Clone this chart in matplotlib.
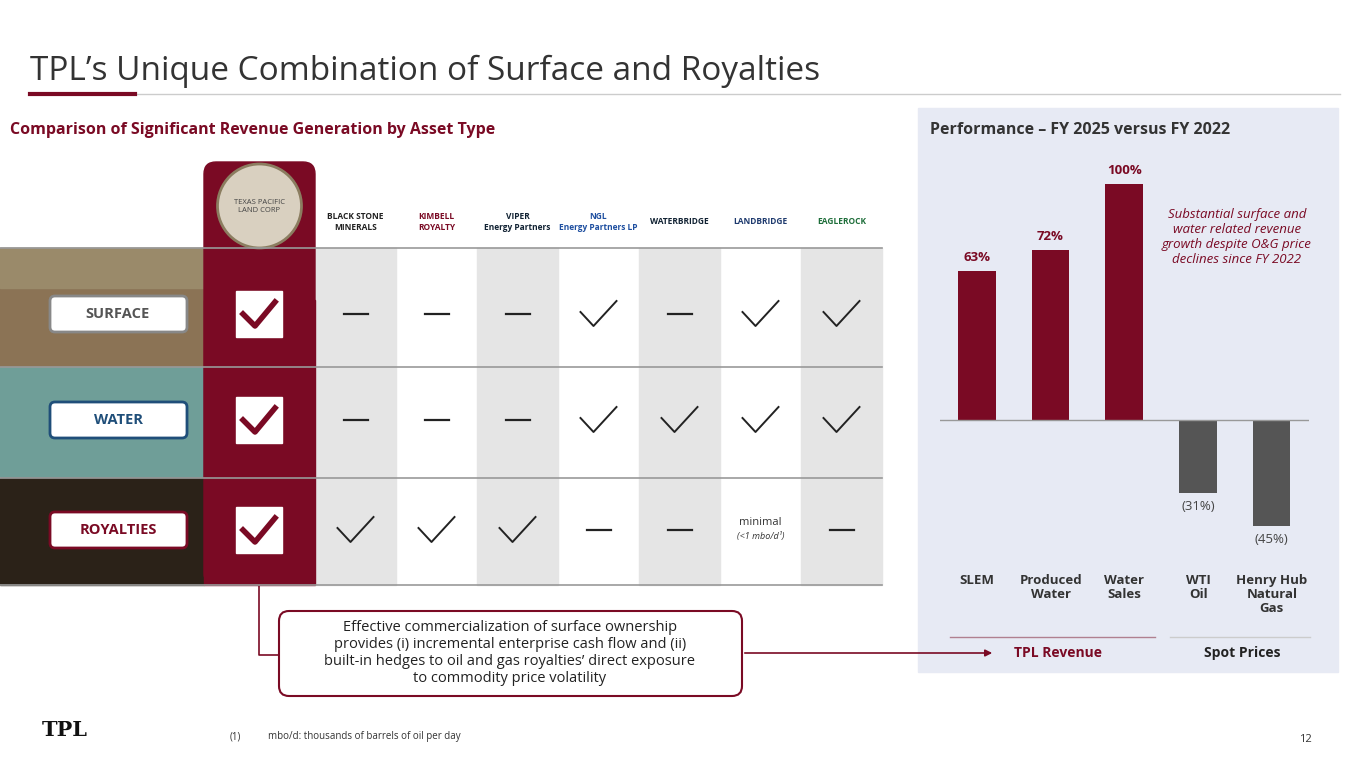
import matplotlib
matplotlib.use("Agg")
import matplotlib.pyplot as plt
from matplotlib.patches import Rectangle, FancyBboxPatch

categories = ["SLEM", "Produced\nWater", "Water\nSales", "WTI\nOil", "Henry Hub\nNatural\nGas"]
values = [63, 72, 100, -31, -45]
value_labels = ["63%", "72%", "100%", "(31%)", "(45%)"]
companies = ["BLACK STONE\nMINERALS", "KIMBELL\nROYALTY", "VIPER\nEnergy Partners", "NGL\nEnergy Partners LP",
             "WATERBRIDGE", "LANDBRIDGE", "EAGLEROCK"]
rows = ["SURFACE", "WATER", "ROYALTIES"]
marks = [["-", "-", "-", "v", "-", "v", "v"],
         ["-", "-", "-", "v", "v", "v", "v"],
         ["v", "v", "v", "-", "-", "minimal", "-"]]

RED = "#7A0A24"
DGREY = "#555555"
plt.rcParams['font.family'] = ['Open Sans', 'DejaVu Sans']
fig = plt.figure(figsize=(13.65, 7.68), dpi=100)
ax = fig.add_axes([0, 0, 1, 1])
ax.set_xlim(0, 1365); ax.set_ylim(768, 0); ax.axis('off')

ax.text(30, 71, "TPL’s Unique Combination of Surface and Royalties", fontsize=24, color="#333333", va="center")
ax.plot([30, 1340], [94, 94], color="#CCCCCC", lw=1)
ax.plot([30, 135], [94, 94], color=RED, lw=3)
ax.text(10, 130, "Comparison of Significant Revenue Generation by Asset Type", fontsize=11.5, color=RED, weight="bold", va="center")

# right panel
ax.add_patch(Rectangle((918, 108), 420, 564, color="#E7EAF4", zorder=0))
ax.text(930, 130, "Performance – FY 2025 versus FY 2022", fontsize=11.5, color="#333333", weight="bold", va="center")
ax.text(1237, 237, "Substantial surface and\nwater related revenue\ngrowth despite O&G price\ndeclines since FY 2022",
        fontsize=9.5, color=RED, style="italic", ha="center", va="center")
ax.plot([950, 1155], [637, 637], color="#B08090", lw=1)
ax.plot([1170, 1310], [637, 637], color="#CCCCCC", lw=1)
ax.text(1058, 653, "TPL Revenue", fontsize=10, color=RED, weight="bold", ha="center", va="center")
ax.text(1242, 653, "Spot Prices", fontsize=10, color="#222222", weight="bold", ha="center", va="center")

# left image bands
ax.add_patch(Rectangle((0, 248), 204, 119, color="#8B7355"))
ax.add_patch(Rectangle((0, 248), 204, 40, color="#9A8A6A"))
ax.add_patch(Rectangle((0, 367), 204, 111, color="#6F9E98"))
ax.add_patch(Rectangle((0, 478), 204, 107, color="#2B2218"))

# columns
col_x = [315 + 81 * i for i in range(7)]
for i, x in enumerate(col_x):
    if i % 2 == 0:
        ax.add_patch(Rectangle((x, 248), 81, 337, color="#E5E5E5", zorder=1))
ax.add_patch(FancyBboxPatch((204, 162), 111, 423, boxstyle="round,pad=0,rounding_size=12", color=RED, zorder=2))
ax.add_patch(Rectangle((204, 300), 111, 285, color=RED, zorder=2))
ax.add_patch(plt.Circle((259.5, 206), 42, facecolor="#D9D0C0", edgecolor="#8B7D60", lw=2, zorder=3))
ax.text(259.5, 206, "TEXAS PACIFIC\nLAND CORP", fontsize=5.5, ha="center", va="center", color="#444", zorder=4)
for y in [248, 367, 478, 585]:
    ax.plot([0, 882], [y, y], color="#999999", lw=1.2, zorder=3)
logo_colors = ["#222", RED, "#123", "#1E4FA0", "#123", "#1E3A6E", "#1E6E3A"]
for i, (c, lc) in enumerate(zip(companies, logo_colors)):
    ax.text(col_x[i] + 40.5, 222, c, fontsize=6, ha="center", va="center", color=lc, weight="bold")

row_y = [314, 420, 530]
labcol = ["#888888", "#1F4E79", RED]
txtcol = ["#555555", "#1F4E79", RED]
for r, (name, y) in enumerate(zip(rows, row_y)):
    ax.add_patch(FancyBboxPatch((50, y - 18), 137, 36, boxstyle="round,pad=0,rounding_size=5",
                                facecolor="white", edgecolor=labcol[r], lw=2, zorder=4))
    ax.text(118, y, name, fontsize=10.5, weight="bold", color=txtcol[r], ha="center", va="center", zorder=5)
    ax.add_patch(Rectangle((236, y - 23), 46, 46, facecolor="white", edgecolor="white", zorder=4))
    ax.plot([243, 255, 275], [y, y + 12, y - 12], color=RED, lw=4, zorder=5)
    for i, m in enumerate(marks[r]):
        cx = col_x[i] + 40.5
        if m == "-":
            ax.plot([cx - 12, cx + 12], [y, y], color="#222222", lw=1.6, zorder=4)
        elif m == "v":
            ax.plot([cx - 18, cx - 5, cx + 18], [y - 2, y + 12, y - 13], color="#222222", lw=1.4, zorder=4)
        else:
            ax.text(cx, y - 2, "minimal", fontsize=8, ha="center", va="bottom", color="#333", zorder=4)
            ax.text(cx, y + 2, "(<1 mbo/d¹)", fontsize=6.5, ha="center", va="top", style="italic", color="#333", zorder=4)

# callout
ax.plot([259, 259, 279], [585, 655, 655], color=RED, lw=1.2)
ax.add_patch(FancyBboxPatch((279, 611), 463, 85, boxstyle="round,pad=0,rounding_size=10",
                            facecolor="white", edgecolor=RED, lw=1.5))
ax.text(510, 653, "Effective commercialization of surface ownership\nprovides (i) incremental enterprise cash flow and (ii)\n"
        "built-in hedges to oil and gas royalties’ direct exposure\nto commodity price volatility",
        fontsize=10.5, ha="center", va="center", color="#222222", linespacing=1.2)
ax.annotate("", xy=(995, 653), xytext=(742, 653), arrowprops=dict(arrowstyle="-|>", color=RED, lw=1.2))

ax.text(42, 730, "TPL", fontsize=15, weight="bold", color="#111", va="center", family="DejaVu Serif")
ax.text(230, 737, "(1)", fontsize=7, color="#333", va="center")
ax.text(268, 737, "mbo/d: thousands of barrels of oil per day", fontsize=7, color="#333", va="center")
ax.text(1312, 740, "12", fontsize=8, color="#333", ha="right", va="center")

# bar chart
u = 2.36
bx = fig.add_axes([940 / 1365, (768 - (420 + 60 * u)) / 768, 368.5 / 1365, 170 * u / 768])
bx.set_xlim(-0.5, 4.5); bx.set_ylim(-60, 110); bx.axis('off')
colors = [RED if v > 0 else DGREY for v in values]
xs = range(len(values))
bx.bar(xs, values, width=0.51, color=colors)
bx.axhline(0, color="#999999", lw=1)
for x, v, l in zip(xs, values, value_labels):
    if v > 0:
        bx.text(x, v + 3, l, ha="center", va="bottom", fontsize=9.5, weight="bold", color=RED)
    else:
        bx.text(x, v - 3, l, ha="center", va="top", fontsize=9.5, color="#444")
for x, c in zip(xs, categories):
    ax.text(977 + 73.7 * x, 574, c, ha="center", va="top", fontsize=9.5, weight="bold", color="#333",
            linespacing=1.1)

fig.savefig("out.png", dpi=100)
